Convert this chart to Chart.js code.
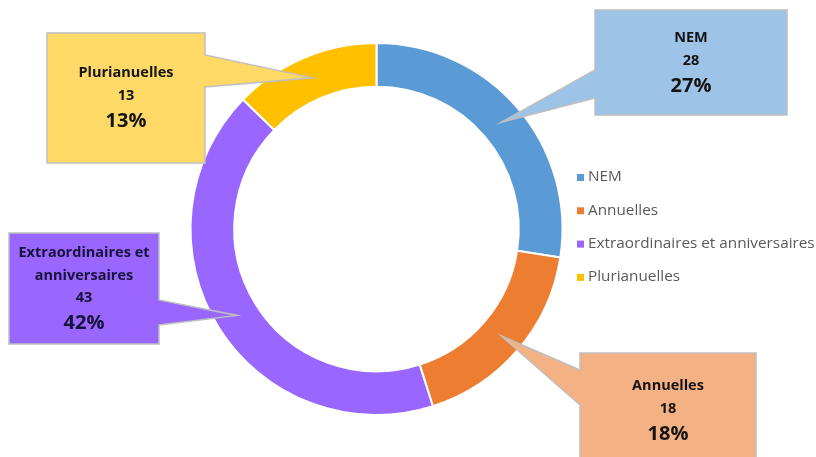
<!DOCTYPE html>
<html>
<head>
<meta charset="utf-8">
<script src="https://cdn.jsdelivr.net/npm/chart.js@4/dist/chart.umd.min.js"></script>
<style>
  html, body { margin: 0; padding: 0; background: #fff; }
  #wrap { width: 816px; height: 457px; }
</style>
</head>
<body>
<div id="wrap"><canvas id="donut" width="816" height="457"></canvas></div>
<script>
(function(){
  'use strict';

  // data
  var categories = ['NEM', 'Annuelles', 'Extraordinaires et anniversaires', 'Plurianuelles'];
  var values = [28, 18, 43, 13];
  var calloutTitles = [['NEM'], ['Annuelles'], ['Extraordinaires et', 'anniversaires'], ['Plurianuelles']];

  var colors = ['#5B9BD5', '#ED7D31', '#9966FF', '#FFC000'];
  var boxColors = ['#9DC3E6', '#F4B183', '#9966FF', '#FFD966'];

  // callout boxes (layout only): box rect, side where the pointer leaves, base y range, first text line y
  var boxes = [
    { x: 595, y: 10,  w: 192, h: 105, side: 'left',  b1: 70,  b2: 98,  t: 38 },
    { x: 580, y: 353, w: 176, h: 120, side: 'left',  b1: 370, b2: 405, t: 386 },
    { x: 9,   y: 233, w: 150, h: 111, side: 'right', b1: 300, b2: 325, t: 253 },
    { x: 47,  y: 33,  w: 158, h: 130, side: 'right', b1: 55,  b2: 87,  t: 73 }
  ];

  var total = values.reduce(function(a, b){ return a + b; }, 0);
  var FONT = '"Open Sans", "Noto Sans", sans-serif';

  var callouts = {
    id: 'callouts',
    afterDatasetsDraw: function(chart){
      var ctx = chart.ctx;
      var meta = chart.getDatasetMeta(0);
      meta.data.forEach(function(arc, i){
        var b = boxes[i];
        var p = arc.getProps(['x', 'y', 'startAngle', 'endAngle', 'innerRadius', 'outerRadius'], true);
        var mid = (p.startAngle + p.endAngle) / 2;
        var r = (p.innerRadius + p.outerRadius) / 2;
        var tx = p.x + Math.cos(mid) * r;
        var ty = p.y + Math.sin(mid) * r;

        ctx.save();
        ctx.beginPath();
        if (b.side === 'left') {
          ctx.moveTo(b.x, b.y);
          ctx.lineTo(b.x + b.w, b.y);
          ctx.lineTo(b.x + b.w, b.y + b.h);
          ctx.lineTo(b.x, b.y + b.h);
          ctx.lineTo(b.x, b.b2);
          ctx.lineTo(tx, ty);
          ctx.lineTo(b.x, b.b1);
        } else {
          ctx.moveTo(b.x, b.y);
          ctx.lineTo(b.x + b.w, b.y);
          ctx.lineTo(b.x + b.w, b.b1);
          ctx.lineTo(tx, ty);
          ctx.lineTo(b.x + b.w, b.b2);
          ctx.lineTo(b.x + b.w, b.y + b.h);
          ctx.lineTo(b.x, b.y + b.h);
        }
        ctx.closePath();
        ctx.fillStyle = boxColors[i];
        ctx.fill();
        ctx.lineWidth = 1.5;
        ctx.strokeStyle = '#BFBFBF';
        ctx.stroke();

        // texts
        var lines = calloutTitles[i];
        var cx = b.x + b.w / 2;
        var lh = 22.5;
        ctx.fillStyle = i === 2 ? '#16123a' : '#141414';
        ctx.textAlign = 'center';
        ctx.textBaseline = 'middle';
        ctx.font = 'bold 14.5px ' + FONT;
        lines.forEach(function(t, k){ ctx.fillText(t, cx, b.t + k * lh); });
        ctx.fillText(String(values[i]), cx, b.t + lines.length * lh);
        ctx.font = 'bold 20px ' + FONT;
        ctx.fillText(Math.round(values[i] / total * 100) + '%', cx, b.t + (lines.length + 1) * lh + 3);
        ctx.restore();
      });
    }
  };

  var sideLegend = {
    id: 'sideLegend',
    afterDraw: function(chart){
      var ctx = chart.ctx;
      var x = chart.chartArea.right + 13;
      var y = 177;
      ctx.save();
      ctx.font = '15.3px ' + FONT;
      ctx.textBaseline = 'middle';
      ctx.textAlign = 'left';
      chart.data.labels.forEach(function(label, i){
        var yy = y + i * 33.3;
        ctx.fillStyle = chart.data.datasets[0].backgroundColor[i];
        ctx.fillRect(x, yy - 3, 7, 7);
        ctx.fillStyle = '#595959';
        ctx.fillText(label, x + 11, yy);
      });
      ctx.restore();
    }
  };

  function initChart(){
    if (!window.Chart) return;
    var el = document.getElementById('donut');
    new Chart(el, {
      type: 'doughnut',
      data: {
        labels: categories,
        datasets: [{
          data: values,
          backgroundColor: colors,
          borderColor: '#ffffff',
          borderWidth: 2,
          hoverOffset: 0
        }]
      },
      options: {
        responsive: false,
        animation: false,
        cutout: '76.5%',
        layout: { padding: { left: 189, right: 252, top: 42, bottom: 41 } },
        plugins: {
          legend: { display: false },
          tooltip: { enabled: false }
        }
      },
      plugins: [callouts, sideLegend]
    });
  }

  document.addEventListener('DOMContentLoaded', initChart);
})();
</script>
</body>
</html>
